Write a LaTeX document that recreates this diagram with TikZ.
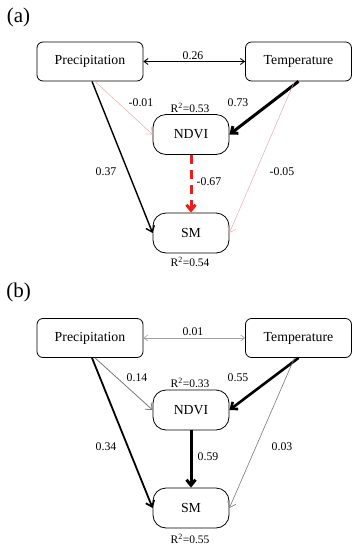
\documentclass[tikz,border=0pt]{standalone}
\usepackage{fontspec}
\setmainfont{Liberation Serif}
\usetikzlibrary{arrows.meta}
\definecolor{pinkln}{RGB}{232,170,175}
\definecolor{redln}{RGB}{235,30,30}
\definecolor{grayA}{RGB}{160,160,160}
\definecolor{grayB}{RGB}{120,120,120}
\begin{document}
\begin{tikzpicture}[x=1pt,y=-1pt,
  varbox/.style={draw,line width=0.8pt,rounded corners=6pt,minimum width=106pt,minimum height=39pt,inner sep=0pt,font=\fontsize{13.8}{15}\selectfont},
  innerbox/.style={draw,line width=0.8pt,rounded corners=13pt,minimum width=76pt,minimum height=40pt,inner sep=0pt,font=\fontsize{13.8}{15}\selectfont},
  lbl/.style={font=\fontsize{11.8}{13}\selectfont,inner sep=0pt},
  rlbl/.style={font=\fontsize{11.5}{13}\selectfont,inner sep=0pt},
  panel/.style={font=\fontsize{21}{23}\selectfont,inner sep=0pt},
  arr/.style={-{Straight Barb[length=5.5pt,width=9pt]}},
  darr/.style={{Straight Barb[length=4pt,width=6pt]}-{Straight Barb[length=4pt,width=6pt]}}
]
\useasboundingbox (0,0) rectangle (362,550);
% ---------- panel (a)
\node[panel] (la) at (18.5,17) {(a)};
\node[varbox] (Pa) at (90,61.5) {Precipitation};
\node[varbox] (Ta) at (298.5,61.5) {Temperature};
\node[innerbox] (Na) at (191,134.5) {NDVI};
\node[innerbox] (Sa) at (191,233) {SM};
\node[rlbl] (rNa) at (190,108) {R\textsuperscript{2}=0.53};
\node[rlbl] (rSa) at (190,262) {R\textsuperscript{2}=0.54};
\draw[darr,line width=0.9pt] (Pa.east) -- (Ta.west);
\node[lbl] (ca) at (193,56) {0.26};
\draw[arr,pinkln,line width=0.5pt] ([xshift=5pt]Pa.south) -- (Na.west);
\node[lbl] (c1a) at (141,103) {-0.01};
\draw[arr,line width=1.4pt] ([xshift=2pt]Pa.south) -- (Sa.west);
\node[lbl] (c2a) at (106,172) {0.37};
\draw[arr,line width=3pt] (Ta.south) -- (Na.east);
\node[lbl] (c3a) at (238,103) {0.73};
\draw[arr,pinkln,line width=0.5pt] ([xshift=-4pt]Ta.south) -- (Sa.east);
\node[lbl] (c4a) at (282,172) {-0.05};
\draw[arr,redln,line width=3pt,dash pattern=on 9pt off 6pt] (Na.south) -- (Sa.north);
\node[lbl] (c5a) at (209,182) {-0.67};
% ---------- panel (b)
\node[panel] (lb) at (18.5,292) {(b)};
\node[varbox] (Pb) at (90,338) {Precipitation};
\node[varbox] (Tb) at (298.5,338) {Temperature};
\node[innerbox] (Nb) at (191,410) {NDVI};
\node[innerbox] (Sb) at (191,508) {SM};
\node[rlbl] (rNb) at (190,383) {R\textsuperscript{2}=0.33};
\node[rlbl] (rSb) at (190,539) {R\textsuperscript{2}=0.55};
\draw[darr,grayA,line width=0.6pt] (Pb.east) -- (Tb.west);
\node[lbl] (cb) at (193,332) {0.01};
\draw[arr,grayB,line width=0.8pt] ([xshift=5pt]Pb.south) -- (Nb.west);
\node[lbl] (c1b) at (137,378) {0.14};
\draw[arr,line width=1.8pt] ([xshift=2pt]Pb.south) -- (Sb.west);
\node[lbl] (c2b) at (106,447) {0.34};
\draw[arr,line width=2.6pt] (Tb.south) -- (Nb.east);
\node[lbl] (c3b) at (238,378) {0.55};
\draw[arr,grayB,line width=0.6pt] ([xshift=-4pt]Tb.south) -- (Sb.east);
\node[lbl] (c4b) at (282,447) {0.03};
\draw[arr,line width=3pt] (Nb.south) -- (Sb.north);
\node[lbl] (c5b) at (208,457) {0.59};
\end{tikzpicture}
\end{document}
